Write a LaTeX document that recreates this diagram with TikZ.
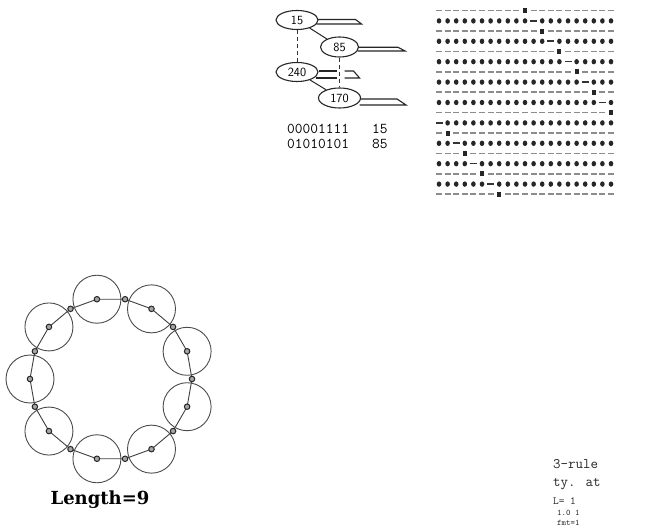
\documentclass[tikz,border=0pt]{standalone}
\usepackage{fontspec}
\newfontfamily\lenfont{DejaVu Serif}
\usetikzlibrary{shapes.geometric,calc}
\begin{document}
\begin{tikzpicture}[x=1pt,y=-1pt,
  ell/.style={draw=black!85,ellipse,line width=1.1pt,inner sep=0pt,minimum width=42pt,minimum height=19pt,font=\sffamily\fontsize{12.5}{12.5}\selectfont},
  flag/.style={draw=black!85,line width=1.1pt},
  dlink/.style={draw=black!80,line width=1pt,dash pattern=on 4pt off 3pt},
  slink/.style={draw=black!85,line width=1pt},
  bigc/.style={circle,draw=black!70,line width=0.9pt,minimum size=48pt,inner sep=0pt},
  sdot/.style={circle,draw=black!85,fill=black!35,line width=1pt,minimum size=5.5pt,inner sep=0pt},
  ringline/.style={draw=black!75,line width=0.9pt},
  bintext/.style={anchor=west,inner sep=0pt,font=\ttfamily\fontsize{15}{15}\selectfont},
  rtext/.style={anchor=west,inner sep=0pt,font=\ttfamily\fontsize{14.5}{14.5}\selectfont,text=black!85},
  gdash/.style={draw=black!45,line width=1.6pt},
  sdash/.style={draw=black!80,line width=1.6pt}
]
\useasboundingbox (0,0) rectangle (645,529);
\fill[white] (0,0) rectangle (645,529);

% ---- tree of ellipses ----
\node[ell] (n15) at (297,20) {15};
\node[ell,minimum width=38pt,minimum height=20pt] (n85) at (339.5,47) {85};
\node[ell] (n240) at (297,72) {240};
\node[ell,minimum height=20pt] (n170) at (339.5,98) {170};

\draw[slink] (n15) -- (n85);
\draw[slink] (n240) -- (n170);
\draw[dlink] (n15.south) -- (n240.north);
\draw[dlink] (n85.south) -- (n170.north);

% flags
\draw[flag] ($(n15.east)+(-1,-0.5)$) -- ++(38,0) -- ++(6,4.5) -- ($(n15.east)+(-2,4)$);
\draw[flag] ($(n85.east)+(-1,0.3)$) -- ++(40,0) -- ++(7,3.7) -- ($(n85.east)+(-1.5,4)$);
\draw[flag] ($(n240.east)+(0,-1)$) -- ++(18,0);
\draw[flag] ($(n240.east)+(-3,6)$) -- ++(21,0);
\draw[flag] ($(n240.east)+(26,-1)$) -- ++(9,0) -- ++(6,7) -- ++(-15,0);
\draw[flag] ($(n170.east)+(-0.5,1)$) -- ++(36.5,0) -- ++(9,6) -- ($(n170.east)+(-1.5,7)$);

% binary text
\node[bintext] (b1) at (287,129) {00001111};
\node[bintext] (v1) at (372,129) {15};
\node[bintext] (b2) at (287,144) {01010101};
\node[bintext] (v2) at (372,144) {85};

% ---- grid (19 rows x 21 columns) ----
\foreach \r in {0,...,18} {
  \pgfmathtruncatemacro\sp{mod(10+\r,21)}
  \pgfmathsetmacro\yy{10.7+10.2*\r}
  \foreach \i in {0,...,20} {
    \pgfmathsetmacro\xx{439+8.6*\i}
    \ifodd\r
      \ifnum\i=\sp
        \draw[sdash] (\xx-3.5,\yy) -- (\xx+3.5,\yy);
      \else
        \fill[black!85] (\xx,\yy) ellipse (2.3pt and 2.7pt);
      \fi
    \else
      \ifnum\i=\sp
        \fill[black!85] (\xx-2,\yy-2.5) rectangle (\xx+2,\yy+2.5);
      \else
        \draw[gdash] (\xx-3,\yy) -- (\xx+3,\yy);
      \fi
    \fi
  }
}

% ---- ring of nine circles ----
\foreach \k in {0,...,8} {
  \pgfmathsetmacro\ca{100-40*\k}
  \pgfmathsetmacro\ja{80-40*\k}
  \coordinate (p\k) at ({111+81*cos(\ca)},{379-81*sin(\ca)});
  \coordinate (j\k) at ({111+81*cos(\ja)},{379-81*sin(\ja)});
}
\foreach \k in {0,...,8} {
  \pgfmathtruncatemacro\nx{mod(\k+1,9)}
  \draw[ringline] (p\k) -- (j\k) -- (p\nx);
}
\foreach \k in {0,...,8} {
  \node[bigc] (c\k) at (p\k) {};
  \node[sdot] (cd\k) at (p\k) {};
  \node[sdot] (jd\k) at (j\k) {};
}
\node[font=\lenfont\bfseries\fontsize{18}{18}\selectfont,inner sep=0pt] (len) at (100,500) {Length=9};

% ---- clipped text at bottom right ----
\node[rtext] (t1) at (553,464) {3-rule};
\node[rtext] (t2) at (553,484) {ty. at};
\node[rtext,font=\ttfamily\fontsize{11}{11}\selectfont] (t3) at (553,501.5) {L= 1};
\node[rtext,font=\ttfamily\fontsize{8.5}{8.5}\selectfont] (t4) at (557,512.5) {1.0 1};
\node[rtext,font=\ttfamily\fontsize{8.5}{8.5}\selectfont] (t5) at (557,523) {fmt=1};
\end{tikzpicture}
\end{document}
